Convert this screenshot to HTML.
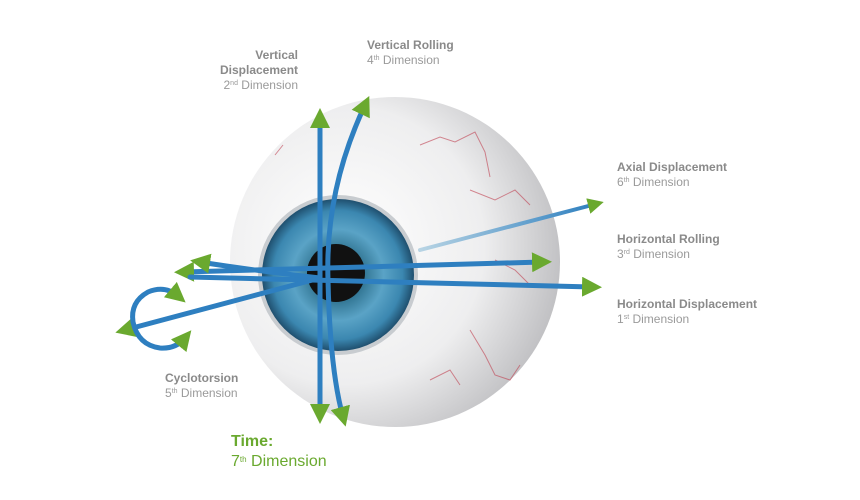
<!DOCTYPE html>
<html><head><meta charset="utf-8"><style>
body{margin:0;background:#fff;width:860px;height:500px;overflow:hidden;font-family:"Liberation Sans",sans-serif}
.l{position:absolute;font-size:12px;line-height:15px;color:#9a9a9a}
.l b{color:#8a8a8a}
sup{font-size:7px;line-height:0;vertical-align:4px}
</style></head><body>
<svg width="860" height="500" style="position:absolute;left:0;top:0">
<defs>
<radialGradient id="ball" cx="0.35" cy="0.45" r="0.7">
<stop offset="0" stop-color="#ffffff"/><stop offset="0.6" stop-color="#eeeeef"/><stop offset="1" stop-color="#b9b9bc"/>
</radialGradient>
<radialGradient id="iris" cx="0.5" cy="0.5" r="0.5">
<stop offset="0.3" stop-color="#2c6f8c"/><stop offset="0.6" stop-color="#5aa3c6"/><stop offset="0.85" stop-color="#3b87b0"/><stop offset="1" stop-color="#1f4f6e"/>
</radialGradient>
<linearGradient id="ax" x1="0" x2="1"><stop offset="0" stop-color="#b8d4e4"/><stop offset="1" stop-color="#2d7fbf"/></linearGradient>
<marker id="g" viewBox="0 0 10 10" refX="5" refY="5" markerWidth="4" markerHeight="4" orient="auto-start-reverse"><path d="M0,0L10,5L0,10z" fill="#6aa92f"/></marker>
</defs>
<circle cx="395" cy="262" r="165" fill="url(#ball)"/>
<circle cx="338" cy="275" r="80" fill="#c8ccd0"/>
<circle cx="338" cy="275" r="76" fill="url(#iris)"/>
<circle cx="336" cy="273" r="29" fill="#111"/>
<g stroke="#c04050" stroke-width="1" fill="none" opacity="0.6">
<path d="M420,145 l20,-8 l15,5 l20,-10 l10,20 l5,25"/><path d="M470,190 l25,10 l20,-10 l15,15"/>
<path d="M470,330 l15,25 l10,20 l15,5 l10,-15"/><path d="M430,380 l20,-10 l10,15"/><path d="M275,155 l8,-10"/><path d="M495,260 l20,10 l15,15"/>
</g>
<g fill="none" stroke="#2e7fc0" stroke-width="5" stroke-linecap="round">
<line x1="320" y1="118" x2="320" y2="414" marker-start="url(#g)" marker-end="url(#g)"/>
<path d="M365,105 Q325,190 328,280 Q330,370 343,417" marker-start="url(#g)" marker-end="url(#g)"/>
<line x1="184" y1="272" x2="542" y2="262" marker-start="url(#g)" marker-end="url(#g)"/>
<line x1="190" y1="277" x2="592" y2="287" marker-end="url(#g)"/>
<path d="M200,262 Q250,270 320,278" marker-start="url(#g)"/>
<line x1="125" y1="330" x2="320" y2="278" marker-start="url(#g)"/>
<path d="M178,296 Q165,285 148,292 Q130,302 133,322 Q138,345 160,348 Q176,349 185,338" marker-start="url(#g)" marker-end="url(#g)"/>
<line x1="420" y1="250" x2="596" y2="204" stroke="url(#ax)" stroke-width="4" marker-end="url(#g)"/>
</g>
</svg>
<div class="l" style="left:220px;top:48px;text-align:right;width:78px"><b>Vertical<br>Displacement</b><br>2<sup>nd</sup> Dimension</div>
<div class="l" style="left:367px;top:38px"><b>Vertical Rolling</b><br>4<sup>th</sup> Dimension</div>
<div class="l" style="left:617px;top:160px"><b>Axial Displacement</b><br>6<sup>th</sup> Dimension</div>
<div class="l" style="left:617px;top:232px"><b>Horizontal Rolling</b><br>3<sup>rd</sup> Dimension</div>
<div class="l" style="left:617px;top:297px"><b>Horizontal Displacement</b><br>1<sup>st</sup> Dimension</div>
<div class="l" style="left:165px;top:371px"><b>Cyclotorsion</b><br>5<sup>th</sup> Dimension</div>
<div class="l" style="left:231px;top:432px;font-size:16px;line-height:20px;color:#6aa92f"><b style="color:#6aa92f">Time:</b><br>7<sup style="font-size:8px">th</sup> Dimension</div>
</body></html>
